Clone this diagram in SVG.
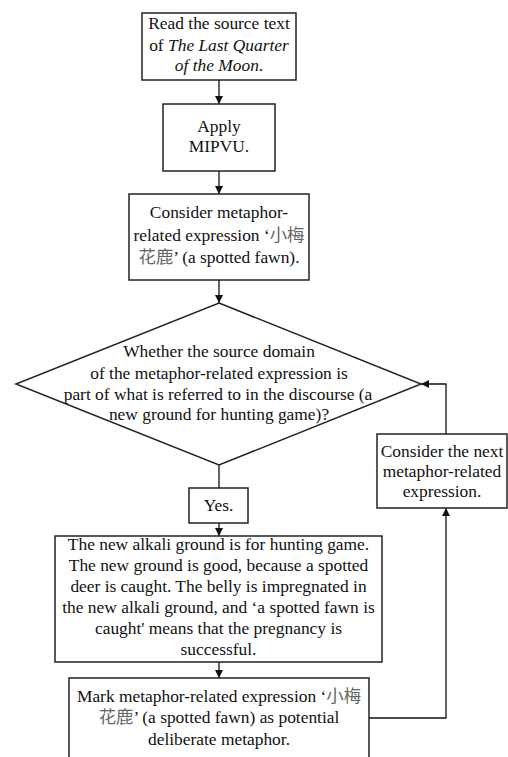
<svg xmlns="http://www.w3.org/2000/svg" width="508" height="757" viewBox="0 0 508 757">
<defs>
<marker id="ah" viewBox="0 0 8 8" refX="8" refY="4" markerWidth="8" markerHeight="8" markerUnits="userSpaceOnUse" orient="auto">
<path d="M0,0 L8,4 L0,8 Z" fill="#111"/>
</marker>
<style>
.box{fill:#fff;stroke:#222;stroke-width:1.5}
.t{font-family:'Liberation Serif','Times New Roman','DejaVu Serif','Noto Sans CJK SC',serif;font-size:17.4px;fill:#111;text-anchor:middle}
.cjk{fill:#666}
.c{fill:none;stroke:#111;stroke-width:1.3}
</style>
</defs>
<rect width="508" height="757" fill="#fff"/>
<g id="connectors">
<line class="c" x1="219" y1="80" x2="219" y2="104" marker-end="url(#ah)"/>
<line class="c" x1="219" y1="171" x2="219" y2="194" marker-end="url(#ah)"/>
<line class="c" x1="219" y1="280" x2="219" y2="303" marker-end="url(#ah)"/>
<line class="c" x1="219" y1="465" x2="219" y2="488"/>
<line class="c" x1="219" y1="523" x2="219" y2="536" marker-end="url(#ah)"/>
<line class="c" x1="219" y1="662" x2="219" y2="678" marker-end="url(#ah)"/>
<polyline class="c" points="369,718 446,718 446,508" marker-end="url(#ah)"/>
<polyline class="c" points="446,434 446,384 421,384" marker-end="url(#ah)"/>
</g>
<g id="n1">
<rect class="box" x="142" y="13" width="154" height="67"/>
<text class="t" x="219" y="29">Read the source text</text>
<text class="t" x="219" y="51">of <tspan font-style="italic">The Last Quarter</tspan></text>
<text class="t" x="219" y="71" font-style="italic">of the Moon<tspan font-style="normal">.</tspan></text>
</g>
<g id="n2">
<rect class="box" x="163" y="104" width="112" height="67"/>
<text class="t" x="219" y="132">Apply</text>
<text class="t" x="219" y="152">MIPVU.</text>
</g>
<g id="n3">
<rect class="box" x="129" y="194" width="180" height="86"/>
<text class="t" x="219" y="218">Consider metaphor-</text>
<text class="t" x="219" y="241">related expression ‘<tspan class="cjk">小梅</tspan></text>
<text class="t" x="219" y="263"><tspan class="cjk">花鹿</tspan>’ (a spotted fawn).</text>
</g>
<g id="n4">
<polygon class="box" points="219,303 421,384 219,465 16,384"/>
<text class="t" x="219" y="357">Whether the source domain</text>
<text class="t" x="219" y="379">of the metaphor-related expression is</text>
<text class="t" x="218" y="400">part of what is referred to in the discourse (a</text>
<text class="t" x="219" y="420">new ground for hunting game)?</text>
</g>
<g id="n5">
<rect class="box" x="189" y="488" width="59" height="35"/>
<text class="t" x="218.5" y="511">Yes.</text>
</g>
<g id="n6">
<rect class="box" x="55" y="536" width="327" height="126"/>
<text class="t" x="218.5" y="550">The new alkali ground is for hunting game.</text>
<text class="t" x="218.5" y="571">The new ground is good, because a spotted</text>
<text class="t" x="218.5" y="592">deer is caught. The belly is impregnated in</text>
<text class="t" x="218.5" y="613">the new alkali ground, and ‘a spotted fawn is</text>
<text class="t" x="218.5" y="634">caught' means that the pregnancy is</text>
<text class="t" x="218.5" y="655">successful.</text>
</g>
<g id="n7">
<rect class="box" x="69" y="678" width="300" height="92"/>
<text class="t" x="219" y="702">Mark metaphor-related expression ‘<tspan class="cjk">小梅</tspan></text>
<text class="t" x="219" y="723"><tspan class="cjk">花鹿</tspan>’ (a spotted fawn) as potential</text>
<text class="t" x="219" y="745">deliberate metaphor.</text>
</g>
<g id="n8">
<rect class="box" x="377" y="434" width="130" height="74"/>
<text class="t" x="442" y="457">Consider the next</text>
<text class="t" x="442" y="477">metaphor-related</text>
<text class="t" x="442" y="497">expression.</text>
</g>
</svg>
